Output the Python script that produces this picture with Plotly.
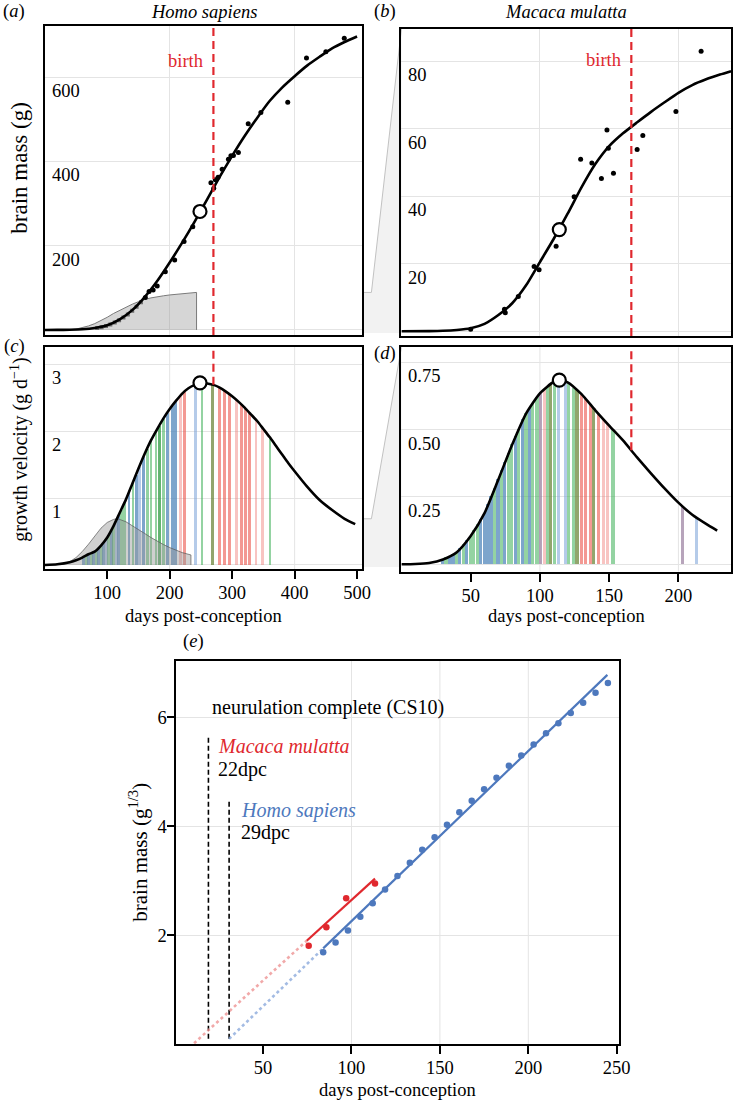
import numpy as np
import plotly.graph_objects as go

# ======================= DATA =======================
# (a) Homo sapiens brain mass (g): fitted growth curve
hs_curve_days = [0, 20, 40, 60, 80, 100, 120, 140, 160, 180, 200, 220, 240, 260, 280, 300,
                 320, 340, 360, 380, 400, 420, 440, 460, 480, 500]
hs_curve_mass = [0, 0.1, 0.5, 1.5, 4.5, 11, 25, 47, 78, 116, 160, 207, 257, 310, 363, 413,
                 460, 503, 543, 575, 602, 627, 648, 668, 683, 696]
# observed brain masses
hs_obs_days = [161, 167, 173.5, 180, 193, 208, 223, 237, 266, 270.5, 273, 277.5, 284, 294, 298,
               302, 310, 325.7, 346, 389, 419, 450, 479.5]
hs_obs_mass = [77, 91, 95, 104, 138, 166, 210, 245, 349, 336, 356, 362, 381, 405, 413,
               414, 421, 489, 516, 540, 645, 660, 692]
# weekly fetal series (grey points)
hs_fetal_days = [84, 91, 98, 105, 112, 119, 126, 133, 140, 147, 154]
hs_fetal_mass = [4.8, 6.5, 9.1, 12.8, 17.4, 22.9, 29.5, 36.9, 45.5, 54.9, 65.4]
hs_peak_day, hs_peak_mass, hs_peak_vel = 248.5, 281, 2.72
hs_birth_day, hs_birth_vel = 270, 2.69
# macaque growth drawn on the human panel (grey area)
mm_on_hs_days = [0, 30, 40, 50, 60, 70, 80, 90, 100, 110, 120, 130, 140, 150, 160, 170, 180,
                 190, 200, 220, 243]
mm_on_hs_mass = [0, 0, 0.5, 2, 5, 9.5, 15, 22, 30, 39, 47, 54, 61, 67, 72.5, 76, 79,
                 81, 83, 86, 89]

# (b) Macaca mulatta brain mass (g)
mm_curve_days = [0, 20, 30, 40, 50, 60, 70, 80, 90, 100, 110, 120, 130, 140, 150, 160, 170,
                 180, 190, 200, 210, 220, 230, 238]
mm_curve_mass = [0, 0.05, 0.15, 0.4, 0.9, 2.2, 4.8, 8.3, 13.6, 20.5, 27.4, 34.8, 42.6, 49.5,
                 54.8, 58.6, 61.8, 64.9, 67.8, 70.6, 72.9, 74.6, 76.0, 77.0]
mm_obs_days = [50, 74.4, 75, 84.4, 95.8, 99.4, 111.7, 124.7, 129.4, 137.5, 144.4, 148.4,
               149.4, 153.1, 170.2, 174.3, 198.2, 216.4]
mm_obs_mass = [0.6, 6.5, 5.5, 10.3, 19.2, 18.2, 25.2, 39.8, 50.9, 49.8, 45.2, 59.6,
               54.2, 46.8, 53.8, 58.0, 65.1, 82.9]
mm_peak_day, mm_peak_mass, mm_peak_vel = 114, 30.1, 0.684
mm_birth_day, mm_birth_vel = 166, 0.424

# (c) Homo sapiens growth velocity (g/day)
hs_vel_days = [0, 20, 40, 50, 60, 70, 80, 90, 100, 110, 120, 130, 140, 150, 160, 170, 180, 190,
               200, 210, 220, 230, 240, 250, 260, 270, 280, 290, 300, 310, 320, 330, 340, 350,
               360, 370, 380, 390, 400, 420, 440, 460, 480, 497]
hs_vel = [0, 0.01, 0.04, 0.07, 0.11, 0.16, 0.20, 0.29, 0.41, 0.58, 0.78, 0.98, 1.21, 1.44,
          1.66, 1.86, 2.03, 2.19, 2.33, 2.45, 2.56, 2.64, 2.69, 2.72, 2.71, 2.69, 2.65, 2.59,
          2.52, 2.44, 2.35, 2.25, 2.15, 2.03, 1.91, 1.78, 1.65, 1.52, 1.40, 1.17, 0.97, 0.82,
          0.69, 0.61]
# macaque velocity drawn on the human panel (grey area)
mm_on_hs_vel_days = [0, 20, 30, 40, 50, 60, 70, 80, 90, 100, 110, 115, 120, 130, 140, 150, 160,
                     170, 180, 190, 200, 210, 220, 234]
mm_on_hs_vel = [0, 0.005, 0.02, 0.05, 0.11, 0.2, 0.31, 0.43, 0.55, 0.635, 0.68, 0.69, 0.68,
                0.645, 0.59, 0.53, 0.47, 0.41, 0.355, 0.305, 0.26, 0.22, 0.185, 0.15]
# sample stripes (days, tissue class)
hs_stripe_days = [62, 66, 70, 74, 78, 82, 86, 90, 94, 98, 102, 106, 110, 114, 118,
                  122.6, 127.8, 134.6, 141, 146.2, 151.4, 158.3, 163.5, 169.8, 177.7,
                  183, 189.8, 196, 204, 209.2, 217, 223.3, 240.6, 251.2, 268.5,
                  280, 287.9, 295.7, 306.3, 314.2, 320.9, 327.2, 337.8, 348.3, 360.3]
hs_stripe_kind = ['b', 'g', 'b', 'g', 'b', 'g', 'b', 'g', 'b', 'lb', 'g', 'b', 'g', 'lb', 'b',
                  'g', 'g', 'b', 'g', 'b', 'lb', 'b', 'g', 'g', 'g',
                  'dg', 'g', 'b', 'b', 'b', 'lr', 'r', 'lb', 'g', 'o',
                  'r', 'r', 'r', 'lr', 'r', 'r', 'r', 'lr', 'lr', 'g']

# (d) Macaca mulatta growth velocity (g/day)
mm_vel_days = [0, 10, 20, 30, 40, 50, 60, 70, 80, 90, 100, 110, 114, 120, 130, 140, 150, 160,
               170, 180, 190, 200, 210, 220, 228]
mm_vel = [0, 0.001, 0.005, 0.018, 0.045, 0.105, 0.19, 0.315, 0.445, 0.56, 0.635, 0.678, 0.684,
          0.676, 0.632, 0.572, 0.515, 0.46, 0.398, 0.339, 0.282, 0.229, 0.184, 0.15, 0.125]
mm_stripe_days = [30, 32.5, 35, 37.5, 40, 42.5, 45, 47.5, 50, 52.5, 55, 57.5, 60, 62.5, 65,
                  67.5, 70, 72.5, 75, 77.5, 80, 82.5, 85,
                  88, 90.3, 92.7, 95.1, 98.2, 101, 103.4, 105.7, 108.1, 111, 114, 118.8, 121.2,
                  124.7, 127.1, 130.6, 133, 136.6, 138.9, 142.5, 146, 148.9, 153.1,
                  203, 213.6]
mm_stripe_kind = ['b', 'g', 'b', 'b', 'g', 'b', 'g', 'b', 'g', 'g', 'g', 'b', 'b', 'b', 'b',
                  'g', 'b', 'g', 'b', 'g', 'g', 'b', 'g',
                  'b', 'g', 'b', 'g', 'g', 'm', 'lr', 'g', 'o', 'g', 'lb', 'lb', 'g',
                  'g', 'o', 'r', 'r', 'r', 'o', 'r', 'lr', 'lr', 'g',
                  'm', 'lb']

# (e) cube-root brain mass (g^1/3)
hs_e_days = [84, 91, 98, 105, 112, 119, 126, 133, 140, 147, 154, 161, 168, 175, 182, 189, 196,
             203, 210, 217, 224, 231, 238, 245]
hs_e_val = [1.69, 1.87, 2.09, 2.34, 2.59, 2.84, 3.09, 3.33, 3.57, 3.80, 4.03, 4.26, 4.47, 4.68,
            4.89, 5.11, 5.30, 5.50, 5.71, 5.89, 6.08, 6.27, 6.45, 6.63]
mm_e_days = [75.8, 85.8, 97, 113.3]
mm_e_val = [1.81, 2.15, 2.68, 2.95]
hs_fit_days, hs_fit_val = [84, 244.7], [1.76, 6.78]
hs_ext_days, hs_ext_val = [30.8, 84], [0.10, 1.76]
mm_fit_days, mm_fit_val = [74.7, 113.3], [1.90, 3.04]
mm_ext_days, mm_ext_val = [11, 74.7], [0.02, 1.90]
cs10_days = [19.1, 30.8]
cs10_top = [5.64, 4.47]
cs10_bottom = 0.1

# tick / grid values
a_ygrid = [0, 200, 400, 600]; a_ylab = [200, 400, 600]
a_xgrid = [200, 400]
b_ygrid = [0, 20, 40, 60, 80]; b_ylab = [20, 40, 60, 80]
b_xgrid = [100, 200]
c_ygrid = [0, 1, 2, 3]; c_ylab = [1, 2, 3]
c_xticks = [100, 200, 300, 400, 500]; c_xgrid = [200, 400]
d_ygrid = [0, 0.25, 0.5, 0.75]; d_ylab = [0.25, 0.5, 0.75]; d_ylab_text = ['0.25', '0.50', '0.75']
d_xticks = [50, 100, 150, 200]; d_xgrid = [100, 200]
e_xticks = [50, 100, 150, 200, 250]; e_xgrid = [100, 150, 200]
e_yticks = [2, 4, 6]

# ======================= STYLE / LAYOUT =======================
W, H = 745, 1102
FONT = "Liberation Serif"
GRID = "#e4e4e4"
RED = "#e0282e"
BLUE = "#4d78bd"
STRIPE_COL = {
    'g': 'rgba(60,175,85,0.55)', 'dg': 'rgba(40,150,60,0.72)',
    'b': 'rgba(75,130,185,0.72)', 'lb': 'rgba(120,160,215,0.55)',
    'r': 'rgba(235,85,75,0.6)', 'lr': 'rgba(240,125,120,0.45)',
    'o': 'rgba(110,135,60,0.75)', 'm': 'rgba(145,115,150,0.65)',
}
# panel boxes in pixels: (x0, x1), (y0, y1) measured from top
BOX = {
    '':  ((45.5, 368), (26, 335)),
    '2': ((408, 743), (29, 336)),
    '3': ((45.5, 368), (346.7, 569)),
    '4': ((408, 743), (347.3, 571.7)),
    '5': ((179.3, 629), (660.7, 1044.3)),
}
XR = {'': [0, 508], '2': [0, 238], '3': [0, 508], '4': [0, 238], '5': [1, 251.2]}
YR = {'': [-12, 721], '2': [-1.4, 89.5], '3': [-0.06, 3.26], '4': [-0.0275, 0.806], '5': [0, 7.04]}

fig = go.Figure()


def add(tr, k):
    tr.update(xaxis='x' + k, yaxis='y' + k, showlegend=False, hoverinfo='skip')
    fig.add_trace(tr)


def curve(x, y, k):
    add(go.Scatter(x=x, y=y, mode='lines', line=dict(color='black', width=2.6, shape='spline', smoothing=0.6)), k)


def circle(x, y, k):
    add(go.Scatter(x=[x], y=[y], mode='markers',
                   marker=dict(size=13, color='white', line=dict(color='black', width=2.2))), k)


def stripes(days, kinds, cx, cy, width, k):
    tops = np.interp(days, cx, cy)  # stripes reach up to the fitted curve
    add(go.Bar(x=days, y=tops, width=[width] * len(days),
               marker=dict(color=[STRIPE_COL[c] for c in kinds], line=dict(width=0))), k)


# ---- (a)
add(go.Scatter(x=mm_on_hs_days + [mm_on_hs_days[-1]], y=mm_on_hs_mass + [0], mode='lines',
               fill='tozeroy', fillcolor='rgba(140,140,140,0.36)',
               line=dict(color='#7a7a7a', width=1)), '')
add(go.Scatter(x=hs_fetal_days, y=hs_fetal_mass, mode='markers',
               marker=dict(size=4, color='#6a6a6a', symbol='square')), '')
curve(hs_curve_days, hs_curve_mass, '')
add(go.Scatter(x=hs_obs_days, y=hs_obs_mass, mode='markers', marker=dict(size=5, color='black')), '')
circle(hs_peak_day, hs_peak_mass, '')

# ---- (b)
curve(mm_curve_days, mm_curve_mass, '2')
add(go.Scatter(x=mm_obs_days, y=mm_obs_mass, mode='markers', marker=dict(size=5, color='black')), '2')
circle(mm_peak_day, mm_peak_mass, '2')

# ---- (c)
stripes(hs_stripe_days, hs_stripe_kind, hs_vel_days, hs_vel, 4.5, '3')
add(go.Scatter(x=mm_on_hs_vel_days + [mm_on_hs_vel_days[-1]], y=mm_on_hs_vel + [0], mode='lines',
               fill='tozeroy', fillcolor='rgba(150,150,150,0.45)',
               line=dict(color='rgba(90,90,90,0.7)', width=1)), '3')
curve(hs_vel_days, hs_vel, '3')
add(go.Scatter(x=[hs_birth_day, hs_birth_day], y=[hs_birth_vel, YR['3'][1]], mode='lines',
               line=dict(color=RED, width=2.2, dash='8px,5px')), '3')
circle(hs_peak_day, hs_peak_vel, '3')

# ---- (d)
stripes(mm_stripe_days, mm_stripe_kind, mm_vel_days, mm_vel, 2.3, '4')
curve(mm_vel_days, mm_vel, '4')
add(go.Scatter(x=[mm_birth_day, mm_birth_day], y=[mm_birth_vel, YR['4'][1]], mode='lines',
               line=dict(color=RED, width=2.2, dash='8px,5px')), '4')
circle(mm_peak_day, mm_peak_vel, '4')

# ---- (e)
for xd, yt in zip(cs10_days, cs10_top):
    add(go.Scatter(x=[xd, xd], y=[cs10_bottom, yt], mode='lines',
                   line=dict(color='black', width=1.6, dash='5px,3px')), '5')
add(go.Scatter(x=mm_ext_days, y=mm_ext_val, mode='lines',
               line=dict(color='rgba(236,140,140,0.75)', width=2.6, dash='3px,3px')), '5')
add(go.Scatter(x=hs_ext_days, y=hs_ext_val, mode='lines',
               line=dict(color='rgba(140,170,220,0.8)', width=2.6, dash='3px,3px')), '5')
add(go.Scatter(x=mm_fit_days, y=mm_fit_val, mode='lines', line=dict(color=RED, width=2.2)), '5')
add(go.Scatter(x=hs_fit_days, y=hs_fit_val, mode='lines', line=dict(color=BLUE, width=2.2)), '5')
add(go.Scatter(x=mm_e_days, y=mm_e_val, mode='markers', marker=dict(size=6.5, color=RED)), '5')
add(go.Scatter(x=hs_e_days, y=hs_e_val, mode='markers', marker=dict(size=6.5, color=BLUE)), '5')

# ---- axes
tickfont = dict(family=FONT, size=18.5, color='black')
layout_axes = {}
for k, ((x0, x1), (y0, y1)) in BOX.items():
    base = dict(showline=True, mirror=True, linecolor='black', linewidth=1.8, zeroline=False,
                fixedrange=True, showgrid=False, ticks='', showticklabels=False, tickfont=tickfont,
                gridcolor=GRID, gridwidth=1)
    xa = dict(base, domain=[x0 / W, x1 / W], range=XR[k], anchor='y' + k)
    ya = dict(base, domain=[1 - y1 / H, 1 - y0 / H], range=YR[k], anchor='x' + k)
    layout_axes['xaxis' + k] = xa
    layout_axes['yaxis' + k] = ya

layout_axes['xaxis'].update(tickmode='array', tickvals=a_xgrid, showgrid=True)
layout_axes['yaxis'].update(tickmode='array', tickvals=a_ygrid, showgrid=True)
layout_axes['xaxis2'].update(tickmode='array', tickvals=b_xgrid, showgrid=True)
layout_axes['yaxis2'].update(tickmode='array', tickvals=b_ygrid, showgrid=True)
layout_axes['yaxis3'].update(tickmode='array', tickvals=c_ygrid, showgrid=True)
layout_axes['yaxis4'].update(tickmode='array', tickvals=d_ygrid, showgrid=True)
for k, tv in (('3', c_xticks), ('4', d_xticks), ('5', e_xticks)):
    layout_axes['xaxis' + k].update(tickmode='array', tickvals=tv, ticks='outside', ticklen=8,
                                   tickwidth=1.5, tickcolor='black', showticklabels=True,
                                   ticklabelstandoff=-2)
layout_axes['yaxis5'].update(tickmode='array', tickvals=e_yticks, ticks='outside', ticklen=8,
                             tickwidth=1.5, tickcolor='black', showticklabels=True, showgrid=True,
                             ticklabelstandoff=-4)

shapes = []
# vertical grid lines that do not follow the tick marks
for k, gv in (('3', c_xgrid), ('4', d_xgrid), ('5', e_xgrid)):
    for g in gv:
        shapes.append(dict(type='line', xref='x' + k, yref='y' + k + ' domain', x0=g, x1=g, y0=0, y1=1,
                           line=dict(color=GRID, width=1), layer='below'))
# birth lines (full height) in a and b
for k, bd in (('', hs_birth_day), ('2', mm_birth_day)):
    shapes.append(dict(type='line', xref='x' + k, yref='y' + k + ' domain', x0=bd, x1=bd, y0=0, y1=1,
                       line=dict(color=RED, width=2.2, dash='8px,5px'), layer='above'))


# zoom connectors (a->b and c->d)
def ypix(k, v):
    (y0, y1) = BOX[k][1]
    r0, r1 = YR[k]
    return y1 - (v - r0) / (r1 - r0) * (y1 - y0)


def P(px, py):
    return f"{px / W:.5f},{1 - py / H:.5f}"


for ka, kb, top_val in (('', '2', max(mm_on_hs_mass)), ('3', '4', max(mm_on_hs_vel))):
    xr = BOX[ka][0][1]
    xl = BOX[kb][0][0]
    yt = ypix(ka, top_val)
    ybot = BOX[ka][1][1] - 2
    ytop_b = BOX[kb][1][0]
    xk = xr + 9.5
    shapes.append(dict(type='path', xref='paper', yref='paper', layer='below',
                       path=f"M{P(xr, yt)} L{P(xk, yt)} L{P(xl, ytop_b)} L{P(xl, ybot)} L{P(xr, ybot)} Z",
                       fillcolor='#f2f2f2', line=dict(width=0)))
    shapes.append(dict(type='path', xref='paper', yref='paper', layer='below',
                       path=f"M{P(xr, yt)} L{P(xk, yt)} L{P(xl, ytop_b)}",
                       line=dict(color='#c2c2c2', width=1)))

annotations = []


def inside_labels(k, vals, texts=None):
    texts = texts or [str(v) for v in vals]
    for v, t in zip(vals, texts):
        annotations.append(dict(x=0, xref='x' + k + ' domain', y=v, yref='y' + k, text=t,
                                xanchor='left', yanchor='top', xshift=5, yshift=-2,
                                showarrow=False, font=tickfont))


inside_labels('', a_ylab)
inside_labels('2', b_ylab)
inside_labels('3', c_ylab)
inside_labels('4', d_ylab, d_ylab_text)


def ptext(text, px, py, size=18.5, color='black', angle=0, xanchor='center'):
    annotations.append(dict(x=px / W, y=1 - py / H, xref='paper', yref='paper', text=text,
                            showarrow=False, textangle=angle, xanchor=xanchor, yanchor='middle',
                            font=dict(family=FONT, size=size, color=color)))


ptext('(<i>a</i>)', 14, 12)
ptext('(<i>b</i>)', 391, 12)
ptext('(<i>c</i>)', 15, 347)
ptext('(<i>d</i>)', 391, 353)
ptext('(<i>e</i>)', 197, 641)
ptext('<i>Homo sapiens</i>', 207, 12)
ptext('<i>Macaca mulatta</i>', 575.5, 12)
ptext('brain mass (g)', 19.5, 167.5, size=23, angle=-90)
ptext('growth velocity (g d<sup>−1</sup>)', 19, 450, size=20, angle=-90)
ptext('brain mass (g<sup>1/3</sup>)', 140, 852, size=21, angle=-90)
ptext('days post-conception', 206.8, 616)
ptext('days post-conception', 575.5, 616)
ptext('days post-conception', 404, 1090)

# "birth" labels
for k, bd, yf in (('', hs_birth_day, 0.887), ('2', mm_birth_day, 0.899)):
    annotations.append(dict(x=bd, xref='x' + k, y=yf, yref='y' + k + ' domain', text='birth',
                            xanchor='right', yanchor='middle', xshift=-8, showarrow=False,
                            font=dict(family=FONT, size=18.5, color=RED)))

# panel (e) labels
efont = dict(family=FONT, size=20, color='black')
annotations.append(dict(x=20, y=6.18, xref='x5', yref='y5', text='neurulation complete (CS10)',
                        xanchor='left', yanchor='middle', showarrow=False, font=efont))
annotations.append(dict(x=23.2, y=5.47, xref='x5', yref='y5', text='<i>Macaca mulatta</i>',
                        xanchor='left', yanchor='middle', showarrow=False, font=dict(efont, color=RED)))
annotations.append(dict(x=23.2, y=5.05, xref='x5', yref='y5', text='22dpc',
                        xanchor='left', yanchor='middle', showarrow=False, font=efont))
annotations.append(dict(x=36.3, y=4.30, xref='x5', yref='y5', text='<i>Homo sapiens</i>',
                        xanchor='left', yanchor='middle', showarrow=False, font=dict(efont, color=BLUE)))
annotations.append(dict(x=36.3, y=3.88, xref='x5', yref='y5', text='29dpc',
                        xanchor='left', yanchor='middle', showarrow=False, font=efont))

fig.update_layout(width=W, height=H, margin=dict(l=0, r=0, t=0, b=0),
                  paper_bgcolor='white', plot_bgcolor='white', barmode='overlay', bargap=0,
                  font=dict(family=FONT, size=18.5, color='black'), showlegend=False,
                  shapes=shapes, annotations=annotations, **layout_axes)

fig.write_html("out.html", config={'displayModeBar': False},
               post_script="document.body.style.margin='0px';document.body.style.padding='0px';")
